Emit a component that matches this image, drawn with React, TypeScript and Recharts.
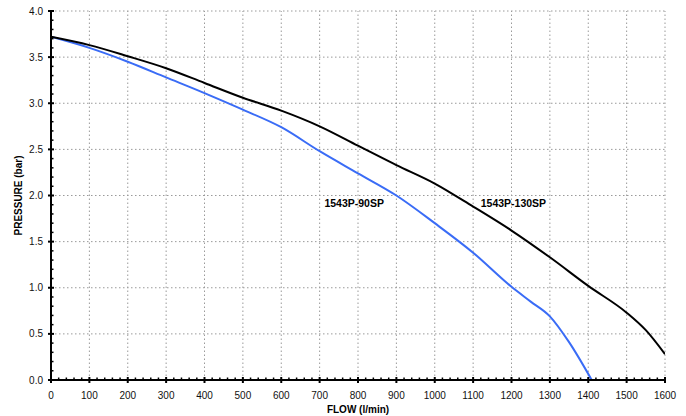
import { LineChart, Line, XAxis, YAxis, ReferenceLine, ReferenceDot } from 'recharts';

// ── Data ────────────────────────────────────────────────
const flow130 = [0, 100, 200, 300, 400, 500, 600, 700, 800, 900, 1000, 1100, 1200, 1300, 1400, 1500, 1550, 1600];
const pressure130 = [3.72, 3.63, 3.51, 3.38, 3.22, 3.06, 2.92, 2.75, 2.54, 2.33, 2.13, 1.88, 1.62, 1.33, 1.02, 0.73, 0.54, 0.28];

const flow90 = [0, 100, 200, 300, 400, 500, 600, 700, 800, 900, 1000, 1100, 1200, 1250, 1300, 1350, 1409];
const pressure90 = [3.72, 3.6, 3.45, 3.28, 3.11, 2.93, 2.74, 2.48, 2.24, 2.0, 1.7, 1.38, 1.01, 0.85, 0.69, 0.41, 0];

const flowTicks = [0, 100, 200, 300, 400, 500, 600, 700, 800, 900, 1000, 1100, 1200, 1300, 1400, 1500, 1600];
const pressureTicks = [0, 0.5, 1, 1.5, 2, 2.5, 3, 3.5, 4];

const data130 = flow130.map((flow, i) => ({ flow, pressure: pressure130[i] }));
const data90 = flow90.map((flow, i) => ({ flow, pressure: pressure90[i] }));

// minor tick marks: every 20 l/min and every 0.1 bar
const flowMinor = Array.from({ length: 81 }, (_, i) => i * 20);
const pressureMinor = Array.from({ length: 41 }, (_, i) => i / 10);

const FONT = '"Liberation Sans", Arial, sans-serif';
const GRID = '#9a9a9a';

// ── Ticks ────────────────────────────────────────────────
function FlowTick({ x, y, payload }: any) {
  const v = payload.value;
  const major = v % 100 === 0;
  return (
    <g>
      <line
        x1={x}
        x2={x}
        y1={major ? y - 3 : y - 2.5}
        y2={major ? y + 3 : y}
        stroke="#000"
        strokeWidth={major ? 2 : 1.5}
      />
      {major && (
        <text x={x} y={y + 19} textAnchor="middle" fontSize={10} fill="#111">
          {v}
        </text>
      )}
    </g>
  );
}

function PressureTick({ x, y, payload }: any) {
  const v = payload.value;
  const major = Math.round(v * 10) % 5 === 0;
  return (
    <g>
      <line
        x1={major ? x - 3 : x}
        x2={major ? x + 3 : x + 2.5}
        y1={y}
        y2={y}
        stroke="#000"
        strokeWidth={major ? 2 : 1.5}
      />
      {major && (
        <text x={x - 8} y={y + 3.5} textAnchor="end" fontSize={10} fill="#111">
          {v.toFixed(1)}
        </text>
      )}
    </g>
  );
}

// ── Component ────────────────────────────────────────────
export default function App() {
  return (
    <div style={{ position: 'absolute', top: 0, left: 0, fontFamily: FONT }}>
      <LineChart width={686} height={416} margin={{ top: 11, right: 21, left: 0, bottom: 0 }}>
        <XAxis
          xAxisId={0}
          type="number"
          dataKey="flow"
          domain={[0, 1600]}
          ticks={flowMinor}
          interval={0}
          tickSize={0}
          tickMargin={0}
          tickLine={false}
          tick={(p: any) => <FlowTick {...p} />}
          axisLine={{ stroke: '#000', strokeWidth: 2 }}
          height={36}
          allowDataOverflow
          label={{
            content: ({ viewBox }: any) => (
              <text
                x={viewBox.x + viewBox.width / 2}
                y={viewBox.y + 33}
                textAnchor="middle"
                fontSize={10}
                fontWeight="bold"
                fill="#000"
              >
                FLOW (l/min)
              </text>
            ),
          }}
        />
        <YAxis
          yAxisId={0}
          type="number"
          domain={[0, 4]}
          ticks={pressureMinor}
          interval={0}
          tickSize={0}
          tickMargin={0}
          tickLine={false}
          tick={(p: any) => <PressureTick {...p} />}
          axisLine={{ stroke: '#000', strokeWidth: 2 }}
          width={51}
          allowDataOverflow
          label={{
            content: ({ viewBox }: any) => {
              const cx = 22;
              const cy = viewBox.y + viewBox.height / 2;
              return (
                <text
                  x={cx}
                  y={cy}
                  transform={`rotate(-90, ${cx}, ${cy})`}
                  textAnchor="middle"
                  fontSize={10}
                  fontWeight="bold"
                  fill="#000"
                >
                  PRESSURE (bar)
                </text>
              );
            },
          }}
        />

        {flowTicks
          .filter((v) => v > 0)
          .map((v) => (
            <ReferenceLine key={`gx${v}`} x={v} stroke={GRID} strokeWidth={1} strokeDasharray="1.5 2.5" />
          ))}
        {pressureTicks
          .filter((v) => v > 0)
          .map((v) => (
            <ReferenceLine key={`gy${v}`} y={v} stroke={GRID} strokeWidth={1} strokeDasharray="1.5 2.5" />
          ))}

        <Line
          data={data90}
          dataKey="pressure"
          type="monotone"
          stroke="#3a6cf6"
          strokeWidth={2}
          dot={false}
          isAnimationActive={false}
        />
        <Line
          data={data130}
          dataKey="pressure"
          type="monotone"
          stroke="#000"
          strokeWidth={2}
          dot={false}
          isAnimationActive={false}
        />

        <ReferenceDot
          x={790}
          y={1.92}
          r={1}
          fill="none"
          stroke="none"
          label={{ value: '1543P-90SP', position: 'center', fontSize: 10.5, fontWeight: 'bold', fill: '#000' }}
        />
        <ReferenceDot
          x={1205}
          y={1.92}
          r={1}
          fill="none"
          stroke="none"
          label={{ value: '1543P-130SP', position: 'center', fontSize: 10.5, fontWeight: 'bold', fill: '#000' }}
        />
      </LineChart>
    </div>
  );
}
